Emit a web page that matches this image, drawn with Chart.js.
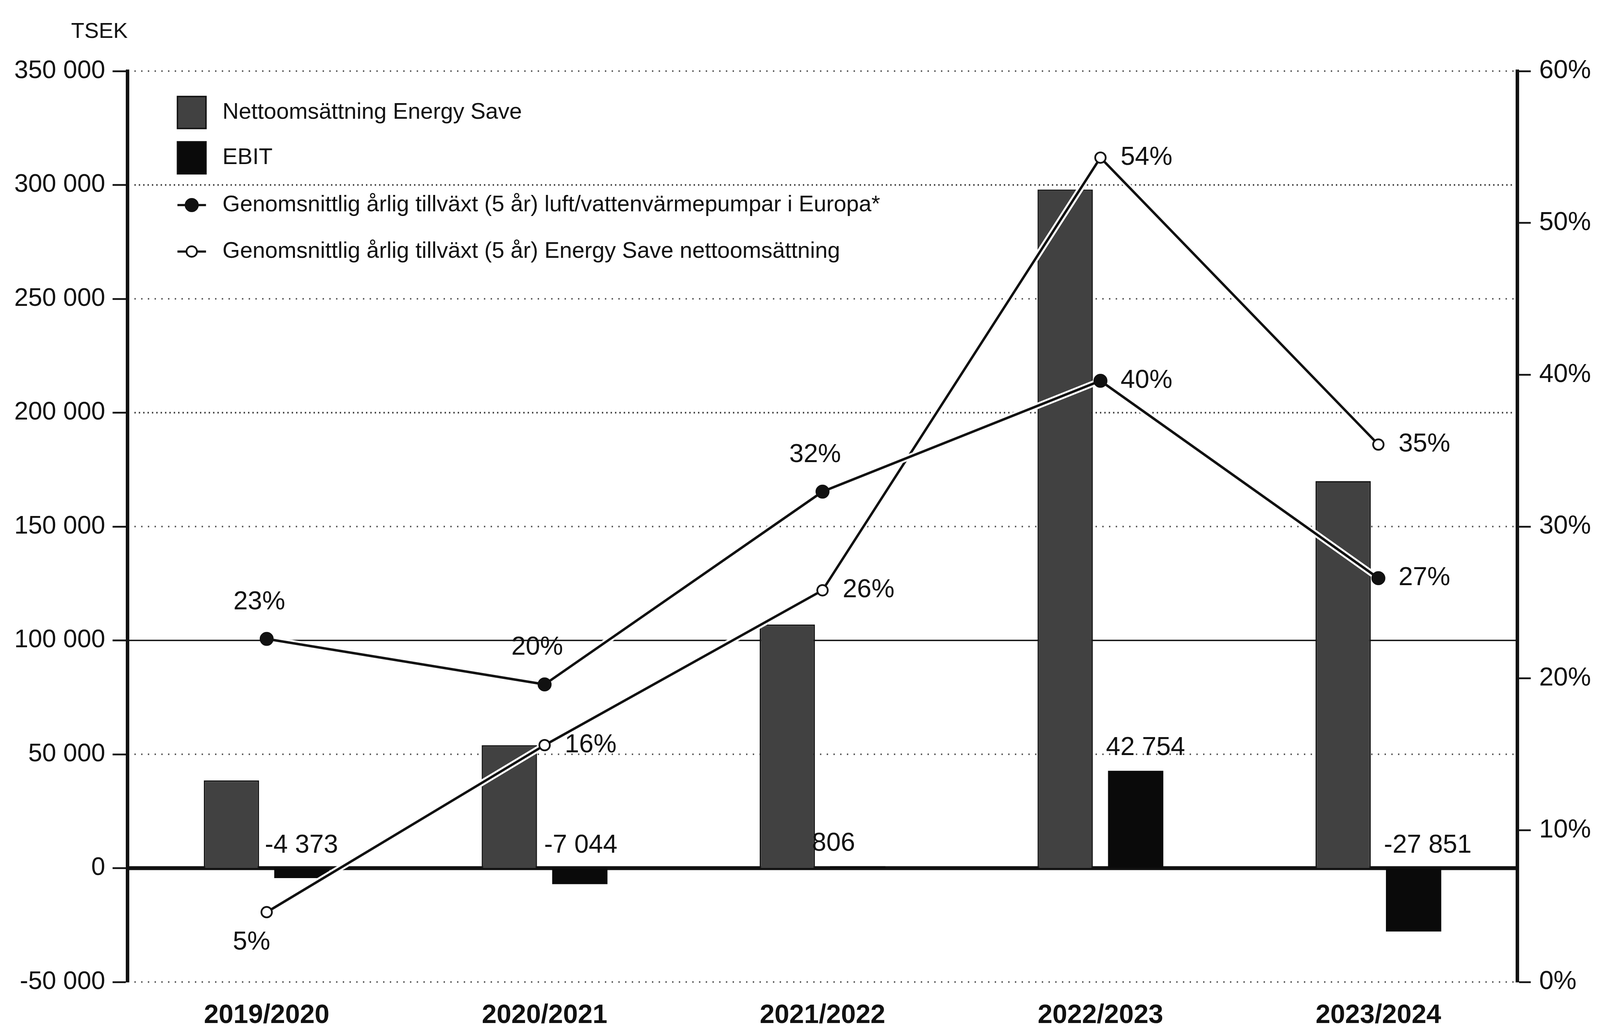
<!DOCTYPE html>
<html lang="sv">
<head>
<meta charset="utf-8">
<title>Energy Save – nettoomsättning, EBIT och tillväxt</title>
<script src="https://cdn.jsdelivr.net/npm/chart.js@4.4.1/dist/chart.umd.min.js"></script>
<style>
  html, body { margin: 0; padding: 0; background: #fff; overflow: hidden; }
  #wrap { width: 100vw; height: 100vh; }
</style>
</head>
<body>
<div id="wrap"><canvas id="chart"></canvas></div>
<script>
// Values (TSEK and %)
const years = ['2019/2020', '2020/2021', '2021/2022', '2022/2023', '2023/2024'];
const netSales = [38500, 54000, 107000, 298000, 170000];
const ebit = [-4373, -7044, 806, 42754, -27851];
const europeGrowth = [22.6, 19.6, 32.3, 39.6, 26.6];
const energySaveGrowth = [4.6, 15.6, 25.8, 54.3, 35.4];

// where each percentage label sits relative to its point
const europeLabelPos = ['top', 'top', 'top', 'right', 'right'];
const energySaveLabelPos = ['bottom', 'right', 'right', 'right', 'right'];
// small horizontal nudges of the EBIT labels (px on the original)
const ebitLabelDx = [-22, -18, -48, 0, 0];

// sizes are measured on the 4761x2642 original and scaled to the real window
const SX = window.innerWidth / 4761;
const SY = window.innerHeight / 2642;
const SF = Math.min(SX, SY) * 1.04;
const hx = v => v * SX;   // horizontal distances
const vy = v => v * SY;   // vertical distances
const fz = v => v * SF;   // fonts, strokes, markers

const FONT = "'Liberation Sans', Arial, Helvetica, sans-serif";
const INK = '#111';
Chart.defaults.font.family = FONT;
Chart.defaults.color = INK;

// "42 754" style with plain spaces
function fmt(v) {
    const s = Math.abs(Math.round(v)).toString().replace(/\B(?=(\d{3})+(?!\d))/g, ' ');
    return (v < 0 ? '-' : '') + s;
}

// grid: dotted lines, thin solid at 100 000, heavy zero line
const gridPlugin = {
    id: 'customGrid',
    beforeDatasetsDraw(chart) {
        const { ctx, chartArea: a, scales: { y } } = chart;
        ctx.save();
        y.ticks.forEach(t => {
            const py = y.getPixelForValue(t.value);
            let x0 = a.left + hx(20), x1 = a.right - hx(10);
            ctx.beginPath();
            if (t.value === 0) {
                ctx.setLineDash([]);
                ctx.lineWidth = vy(10);
                ctx.strokeStyle = INK;
                x0 = a.left; x1 = a.right;
            } else if (t.value === 100000) {
                ctx.setLineDash([]);
                ctx.lineWidth = vy(3.5);
                ctx.strokeStyle = INK;
                x0 = a.left; x1 = a.right;
            } else if (t.value === 300000 || t.value === 200000) {
                ctx.setLineDash([hx(4), hx(9)]);
                ctx.lineWidth = vy(4);
                ctx.strokeStyle = '#333';
            } else {
                ctx.setLineDash([hx(4), hx(16)]);
                ctx.lineWidth = vy(4);
                ctx.strokeStyle = '#555';
            }
            ctx.moveTo(x0, py);
            ctx.lineTo(x1, py);
            ctx.stroke();
        });
        ctx.restore();
    }
};

// white casing under the growth lines
const casingPlugin = {
    id: 'casing',
    beforeDatasetDraw(chart, args) {
        const ds = chart.data.datasets[args.index];
        if (ds.type !== 'line') return;
        const { ctx } = chart;
        const pts = args.meta.data;
        ctx.save();
        ctx.strokeStyle = '#fff';
        ctx.lineWidth = fz(18);
        ctx.lineJoin = 'round';
        ctx.beginPath();
        pts.forEach((p, i) => i ? ctx.lineTo(p.x, p.y) : ctx.moveTo(p.x, p.y));
        ctx.stroke();
        ctx.restore();
    }
};

// value labels for EBIT bars and both growth lines
const labelPlugin = {
    id: 'valueLabels',
    afterDatasetsDraw(chart) {
        const { ctx } = chart;
        ctx.save();
        ctx.fillStyle = INK;
        ctx.font = fz(74) + 'px ' + FONT;

        const ebitMeta = chart.getDatasetMeta(1);
        ebitMeta.data.forEach((bar, i) => {
            ctx.textAlign = 'left';
            ctx.textBaseline = 'alphabetic';
            ctx.fillText(fmt(ebit[i]), bar.x - bar.width / 2 - hx(6) + hx(ebitLabelDx[i]),
                Math.min(bar.y, bar.base) - vy(40));
        });

        [2, 3].forEach(di => {
            const ds = chart.data.datasets[di];
            chart.getDatasetMeta(di).data.forEach((pt, i) => {
                const txt = Math.round(ds.data[i]) + '%';
                const pos = ds.labelPos[i];
                ctx.textBaseline = 'middle';
                if (pos === 'top') {
                    ctx.textAlign = 'center';
                    ctx.fillText(txt, pt.x - hx(22), pt.y - vy(94));
                } else if (pos === 'bottom') {
                    ctx.textAlign = 'center';
                    ctx.fillText(txt, pt.x - hx(45), pt.y + vy(78));
                } else {
                    ctx.textAlign = 'left';
                    ctx.fillText(txt, pt.x + hx(60), pt.y);
                }
            });
        });
        ctx.restore();
    }
};

// legend inside the plot, plus the TSEK unit
const legendPlugin = {
    id: 'sideLegend',
    afterDraw(chart) {
        const { ctx } = chart;
        const ds = chart.data.datasets;
        const rows = [288, 404, 525, 644];
        const bx = hx(528), bw = hx(85), bh = vy(82), tx = hx(662);
        ctx.save();
        ctx.font = fz(64.5) + 'px ' + FONT;
        ctx.textAlign = 'left';
        ctx.textBaseline = 'middle';
        ds.forEach((d, i) => {
            const cy = vy(rows[i]);
            if (d.type === 'line') {
                ctx.strokeStyle = INK;
                ctx.lineWidth = fz(6);
                ctx.beginPath();
                ctx.moveTo(bx, cy);
                ctx.lineTo(bx + bw, cy);
                ctx.stroke();
                ctx.beginPath();
                ctx.arc(bx + bw / 2, cy, d.pointRadius, 0, Math.PI * 2);
                ctx.fillStyle = d.pointBackgroundColor;
                ctx.fill();
                ctx.lineWidth = d.pointBorderWidth;
                ctx.stroke();
            } else {
                ctx.fillStyle = d.backgroundColor;
                ctx.fillRect(bx, cy - bh / 2, bw, bh);
                ctx.strokeStyle = INK;
                ctx.lineWidth = fz(4);
                ctx.strokeRect(bx, cy - bh / 2, bw, bh);
            }
            ctx.fillStyle = INK;
            ctx.fillText(d.label, tx, cy);
        });

        ctx.font = fz(62) + 'px ' + FONT;
        ctx.textAlign = 'right';
        ctx.fillText('TSEK', chart.chartArea.left, vy(82));
        ctx.restore();
    }
};

const ctx = document.getElementById('chart').getContext('2d');
new Chart(ctx, {
    type: 'bar',
    data: {
        labels: years,
        datasets: [
            {
                label: 'Nettoomsättning Energy Save',
                data: netSales,
                yAxisID: 'y',
                backgroundColor: '#414141',
                borderColor: '#161616',
                borderWidth: fz(4),
                categoryPercentage: 0.507,
                barPercentage: 0.785,
                order: 2
            },
            {
                label: 'EBIT',
                data: ebit,
                yAxisID: 'y',
                backgroundColor: '#0a0a0a',
                borderColor: '#0a0a0a',
                borderWidth: 0,
                categoryPercentage: 0.507,
                barPercentage: 0.785,
                order: 2
            },
            {
                type: 'line',
                label: 'Genomsnittlig årlig tillväxt (5 år) luft/vattenvärmepumpar i Europa*',
                data: europeGrowth,
                labelPos: europeLabelPos,
                yAxisID: 'y1',
                borderColor: INK,
                borderWidth: fz(7),
                pointRadius: fz(19),
                pointBackgroundColor: INK,
                pointBorderColor: INK,
                pointBorderWidth: fz(2),
                tension: 0,
                fill: false,
                order: 1
            },
            {
                type: 'line',
                label: 'Genomsnittlig årlig tillväxt (5 år) Energy Save nettoomsättning',
                data: energySaveGrowth,
                labelPos: energySaveLabelPos,
                yAxisID: 'y1',
                borderColor: INK,
                borderWidth: fz(7),
                pointRadius: fz(15),
                pointBackgroundColor: '#fff',
                pointBorderColor: INK,
                pointBorderWidth: fz(5),
                tension: 0,
                fill: false,
                order: 1
            }
        ]
    },
    options: {
        responsive: true,
        maintainAspectRatio: false,
        animation: false,
        layout: { padding: { top: vy(182), left: 0, right: 0, bottom: 0 } },
        plugins: {
            legend: { display: false },
            tooltip: { enabled: false }
        },
        scales: {
            x: {
                grid: { display: false, drawTicks: false },
                border: { display: false },
                ticks: { font: { size: fz(76), weight: 'bold' }, color: INK, padding: vy(45), maxRotation: 0 },
                afterFit(s) { s.height = vy(128); }
            },
            y: {
                position: 'left',
                min: -50000,
                max: 350000,
                ticks: { stepSize: 50000, callback: v => fmt(v), font: { size: fz(72) }, padding: hx(22), color: INK },
                grid: { drawOnChartArea: false, drawTicks: true, tickLength: hx(45), tickWidth: fz(5), tickColor: INK },
                border: { display: true, color: INK, width: fz(10) },
                afterFit(s) { s.width = hx(380); }
            },
            y1: {
                position: 'right',
                min: 0,
                max: 60,
                ticks: { stepSize: 10, callback: v => v + '%', font: { size: fz(74) }, padding: hx(25), color: INK },
                grid: { drawOnChartArea: false, drawTicks: true, tickLength: hx(40), tickWidth: fz(5), tickColor: INK },
                border: { display: true, color: INK, width: fz(10) },
                afterFit(s) { s.width = hx(246); }
            }
        }
    },
    plugins: [gridPlugin, casingPlugin, labelPlugin, legendPlugin]
});
</script>
</body>
</html>
